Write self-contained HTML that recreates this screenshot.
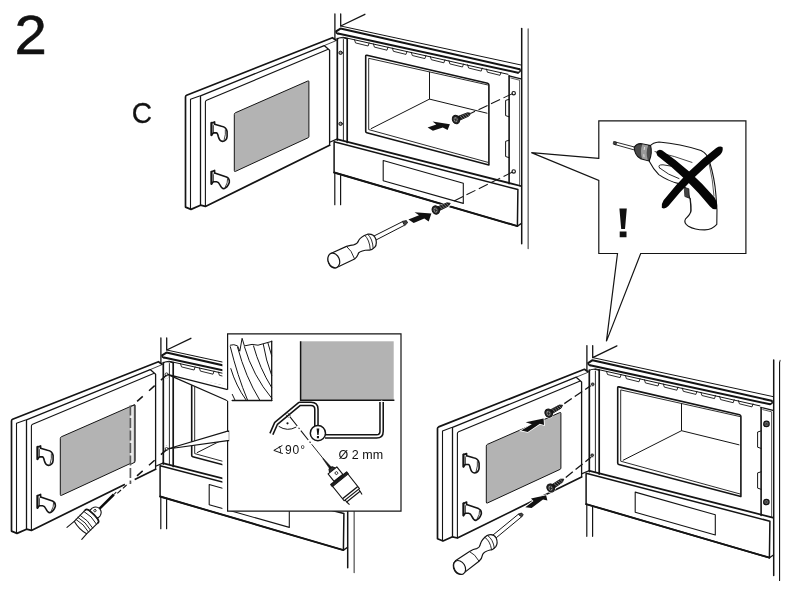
<!DOCTYPE html>
<html><head><meta charset="utf-8"><title>2</title>
<style>
html,body{margin:0;padding:0;background:#fff;}
body{width:792px;height:595px;overflow:hidden;position:relative;font-family:"Liberation Sans",sans-serif;}
svg{position:absolute;left:0;top:0;display:block;}
svg text{filter:grayscale(1);}
</style></head><body>
<svg width="792" height="595" viewBox="0 0 792 595">
<rect width="792" height="595" fill="#fff"/>
<defs><g id="oven" fill="none" stroke="#141414" stroke-linecap="round" stroke-linejoin="round">
<path d="M334.9 14V40 M340.7 14V26 M340.7 26L364.9 14.3" stroke-width="1.3"/>
<path d="M334.8 173.5V204.7 M340.6 175.5V204.7" stroke-width="1.2"/>
<path d="M521.7 28.5V243.8" stroke-width="1.5"/>
<path d="M528.2 29V248.4" stroke-width="1.6" stroke="#7a7a7a"/>
<path d="M336 40.2L332.4 37.7L186.6 95.3Q185.5 95.8 185.5 97V207.1L191 209.4L200.5 205.2L205.4 206.4L329.6 145.3" stroke-width="1.7" fill="#fff"/>
<path d="M190.5 209.2V99.3L199.6 96" stroke-width="1.1"/>
<path d="M200.5 205.2V95.8L324.2 45.6L329.6 50.3V145.3" stroke-width="1.3"/>
<path d="M324.2 45.6L335.5 40.9" stroke-width="0.8"/>
<path d="M205.4 206.4V102Q205.4 100.7 206.6 100.2L327.6 49.6" stroke-width="1.1"/>
<path d="M234.3 114.2Q234.3 113.2 235.3 112.8L307.8 81Q308.9 80.5 308.9 81.7V136.5Q308.9 137.4 308 137.8L235.4 171.4Q234.3 171.9 234.3 170.8Z" fill="#b3b3b3" stroke-width="1"/>
<path d="M211.4 123V135.2L213.4 132.9H216.4Q217.6 133 218.3 136.5Q219.5 141.2 222.6 141.4Q226.8 140.5 227.1 136.5V131.5Q226.4 127.2 221.5 126.2L214.6 124.2V121.9Z" stroke-width="1.6" fill="#fff"/><path d="M211.5 122.8V135.2" stroke-width="1.9"/><path d="M214.6 124.2L213.4 125.6V132.9 M225.4 130Q226 134 224.2 139.6" stroke-width="0.8"/>
<path d="M211.4 171.8V184L213.4 181.7H216.6Q218.6 182 220 185Q221.6 188.6 223.8 188.8Q227.6 187.5 229.3 182.5Q229.8 178.6 226.5 177L214.6 173V170.4Z" stroke-width="1.6" fill="#fff"/><path d="M211.5 171.6V184" stroke-width="1.9"/><path d="M214.6 173L213.4 174.4V181.7 M227.6 179.2Q228 182.6 225.2 187.2" stroke-width="0.8"/>
<path d="M340.7 26L521 65" stroke-width="1"/>
<path d="M336.5 31.2L340.5 28.6L519.6 69.2" stroke-width="2"/>
<path d="M338 33.6L518 72.7" stroke-width="2"/>
<path d="M336.3 31.2Q335.6 33 338 33.8" stroke-width="1.6"/>
<path d="M519.6 69.2Q521.6 71.6 518 72.7" stroke-width="1.5"/>
<path d="M343 37.2L508 74.3" stroke-width="1"/>
<path d="M354.5 39.7L355.5 42.9L368.1 46.0L369.1 43.0" stroke-width="0.9"/>
<path d="M373.4 43.9L374.4 47.1L387.0 50.2L388.0 47.2" stroke-width="0.9"/>
<path d="M392.4 48.1L393.4 51.3L406.0 54.4L407.0 51.4" stroke-width="0.9"/>
<path d="M411.3 52.3L412.3 55.5L424.9 58.6L425.9 55.6" stroke-width="0.9"/>
<path d="M430.3 56.5L431.3 59.7L443.9 62.8L444.9 59.8" stroke-width="0.9"/>
<path d="M448.9 60.7L449.9 63.9L462.5 67.0L463.5 64.0" stroke-width="0.9"/>
<path d="M467.6 64.8L468.6 68.0L481.2 71.1L482.2 68.1" stroke-width="0.9"/>
<path d="M486.4 69.0L487.4 72.2L500.0 75.3L501.0 72.3" stroke-width="0.9"/>
<path d="M337.3 38.5V140" stroke-width="1.7"/>
<path d="M343.4 39.5V140.5" stroke-width="0.9"/>
<path d="M347.2 38.5V142.5" stroke-width="1.7"/>
<path d="M337.3 39Q340 36.5 346.8 38.6" stroke-width="1.2"/>
<circle cx="340.6" cy="52.8" r="1.7" stroke-width="1" fill="#999"/>
<circle cx="340.6" cy="123.8" r="1.7" stroke-width="1" fill="#999"/>
<path d="M365.7 56.2Q365.7 55 366.9 55.3L487.6 83.2Q488.9 83.6 488.9 85V165L366.8 132.8Q365.7 132.5 365.7 131.3Z" stroke-width="1.6"/>
<path d="M487.6 84.9L368.7 58.3V129.6L487.8 162.3" stroke-width="0.9"/>
<path d="M429.5 72.3V99.1L487 113.2 M429.5 99.1L371.2 128.6" stroke-width="1"/>
<path d="M509.1 75.9V183.8" stroke-width="1.6"/>
<path d="M509.1 75.9L521 78.8" stroke-width="1.2"/>
<path d="M510.8 78L519.6 80.2V186" stroke-width="0.7"/>
<circle cx="513.7" cy="93.2" r="1.7" stroke-width="1.15"/>
<circle cx="513.7" cy="171.4" r="1.7" stroke-width="1.15"/>
<path d="M509.1 99.3L505.6 100.4V115.6L509.1 116.8 M509.1 140.2L505.6 141.3V156.5L509.1 157.7" stroke-width="1"/>
<path d="M334.1 141.7L517.9 189.6L517.4 226.1L334.1 172.5Z" stroke-width="1.5" fill="#fff"/>
<path d="M334.1 172.5L517.4 226.1" stroke-width="1.9"/>
<path d="M517.4 226.1L521.5 223.4" stroke-width="1.3"/>
<path d="M337.6 139.3L520.8 186" stroke-width="1.8"/>
<path d="M329.6 142.3L337.4 138.9" stroke-width="1.2"/>
<path d="M383.2 160.5L463.3 183.2V203.4L383.2 180.7Z" stroke-width="1.1"/>
</g><linearGradient id="stripg" x1="0" x2="1" y1="0" y2="0"><stop offset="0" stop-color="#fafafa"/><stop offset="0.55" stop-color="#e4e4e4"/><stop offset="1" stop-color="#a8a8a8"/></linearGradient></defs>
<text transform="translate(14.4 53.8) scale(1.06 1)" x="0" y="0" font-family="Liberation Sans, sans-serif" font-size="54.9" fill="#111" stroke="#111" stroke-width="0.5">2</text>
<text transform="translate(131.8 123) scale(0.95 1.01)" x="0" y="0" font-family="Liberation Sans, sans-serif" font-size="29.6" fill="#111" stroke="#111" stroke-width="0.3">C</text>
<use href="#oven"/>
<g fill="none" stroke="#141414" stroke-linecap="butt">
<path d="M512.5 93.6L470.5 113.5" stroke-width="1.05" stroke-dasharray="10 3.8"/>
<path d="M512.5 172L451 202.5" stroke-width="1.05" stroke-dasharray="10 3.8"/>
</g>
<g transform="translate(456.0 119.5) rotate(-22.7)"><path d="M0 0H13.5" stroke="#fff" stroke-width="5.6" stroke-linecap="round" fill="none"/><ellipse cx="0" cy="0" rx="4.7" ry="5.3" fill="#fff" stroke="none"/><path d="M2 -2.1L13.2 -1.8L16.0 0L13.2 1.8L2 2.1Z" fill="#1a1a1a" stroke="#1a1a1a" stroke-width="0.8"/><path d="M5.2 -1.8L6.2 1.8M7.6 -1.8L8.6 1.8M10 -1.7L11 1.7M12.4 -1.5L13.2 1.5" stroke="#b5b5b5" stroke-width="0.55"/><ellipse cx="0" cy="0" rx="3.6" ry="4.3" fill="#222" stroke="#111" stroke-width="1"/><ellipse cx="-0.3" cy="0" rx="2" ry="2.6" fill="#8c8c8c" stroke="none"/><path d="M-1.7 -1.4L1.1 1.6M-1.4 1.7L1 -1.6" stroke="#222" stroke-width="0.8"/></g>
<g transform="translate(435.8 210.0) rotate(-25.0)"><path d="M0 0H13.5" stroke="#fff" stroke-width="5.6" stroke-linecap="round" fill="none"/><ellipse cx="0" cy="0" rx="4.7" ry="5.3" fill="#fff" stroke="none"/><path d="M2 -2.1L13.1 -1.8L15.9 0L13.1 1.8L2 2.1Z" fill="#1a1a1a" stroke="#1a1a1a" stroke-width="0.8"/><path d="M5.2 -1.8L6.2 1.8M7.6 -1.8L8.6 1.8M10 -1.7L11 1.7M12.4 -1.5L13.2 1.5" stroke="#b5b5b5" stroke-width="0.55"/><ellipse cx="0" cy="0" rx="3.6" ry="4.3" fill="#222" stroke="#111" stroke-width="1"/><ellipse cx="-0.3" cy="0" rx="2" ry="2.6" fill="#8c8c8c" stroke="none"/><path d="M-1.7 -1.4L1.1 1.6M-1.4 1.7L1 -1.6" stroke="#222" stroke-width="0.8"/></g>
<polygon points="427.6,127.6 436.3,124.5 432.6,121.6 449.9,124.2 447.6,130.0 442.8,127.4 432.9,130.8" fill="#111" stroke="none"/>
<polygon points="408.4,219.4 419.0,215.3 414.6,212.3 431.4,213.6 428.7,221.5 424.3,218.5 413.7,222.9" fill="#111" stroke="none"/>
<g transform="translate(0 0)" fill="#fff" stroke="#141414" stroke-width="1.2" stroke-linejoin="round"><path d="M402.6 221.6L373.6 236.2 M404.4 225.3L376 240" stroke-width="1"/><path d="M402.3 221.4L406.4 220.6L407.6 222.8L404.7 225.6Z" fill="#444" stroke-width="0.9"/><path d="M331.3 253.2L346.5 246.4Q351 244.8 353.6 244.8Q357.5 244 358.6 240.6Q360.5 236.6 367.6 234.2Q373.8 233.6 375.8 239Q377.2 244.4 374.8 247.2Q372 250.4 368.8 250Q361 250.4 358.5 253Q357.5 256.8 354.6 259L336.2 267.8Q331 268.6 328.6 263Q326.6 256.5 331.3 253.2Z"/><ellipse cx="333.8" cy="260.4" rx="5.6" ry="7.6" transform="rotate(-22 333.8 260.4)"/><path d="M346.5 246.4Q351.5 250 354.6 259" fill="none" stroke-width="0.9"/><path d="M364.6 235.2Q369.5 239.5 370.3 249.8" fill="none" stroke-width="0.9"/><path d="M367.6 234.2Q372.6 238.5 373.2 248.8" fill="none" stroke-width="0.9"/></g>
<use href="#oven" transform="translate(252 331.6)"/>
<g fill="none" stroke="#141414" stroke-linecap="butt">
<path d="M592.6 384.4L563.5 404.2" stroke-width="1.3" stroke-dasharray="9 3.6"/>
<path d="M592.4 456L564.5 478.5" stroke-width="1.3" stroke-dasharray="9 3.6"/>
</g>
<g transform="translate(548.7 413.2) rotate(-29.9)"><path d="M0 0H13.5" stroke="#fff" stroke-width="5.6" stroke-linecap="round" fill="none"/><ellipse cx="0" cy="0" rx="4.7" ry="5.3" fill="#fff" stroke="none"/><path d="M2 -2.1L13.2 -1.8L16.0 0L13.2 1.8L2 2.1Z" fill="#1a1a1a" stroke="#1a1a1a" stroke-width="0.8"/><path d="M5.2 -1.8L6.2 1.8M7.6 -1.8L8.6 1.8M10 -1.7L11 1.7M12.4 -1.5L13.2 1.5" stroke="#b5b5b5" stroke-width="0.55"/><ellipse cx="0" cy="0" rx="3.6" ry="4.3" fill="#222" stroke="#111" stroke-width="1"/><ellipse cx="-0.3" cy="0" rx="2" ry="2.6" fill="#8c8c8c" stroke="none"/><path d="M-1.7 -1.4L1.1 1.6M-1.4 1.7L1 -1.6" stroke="#222" stroke-width="0.8"/></g>
<g transform="translate(550.7 488.0) rotate(-34.2)"><path d="M0 0H13.5" stroke="#fff" stroke-width="5.6" stroke-linecap="round" fill="none"/><ellipse cx="0" cy="0" rx="4.7" ry="5.3" fill="#fff" stroke="none"/><path d="M2 -2.1L13.0 -1.8L15.8 0L13.0 1.8L2 2.1Z" fill="#1a1a1a" stroke="#1a1a1a" stroke-width="0.8"/><path d="M5.2 -1.8L6.2 1.8M7.6 -1.8L8.6 1.8M10 -1.7L11 1.7M12.4 -1.5L13.2 1.5" stroke="#b5b5b5" stroke-width="0.55"/><ellipse cx="0" cy="0" rx="3.6" ry="4.3" fill="#222" stroke="#111" stroke-width="1"/><ellipse cx="-0.3" cy="0" rx="2" ry="2.6" fill="#8c8c8c" stroke="none"/><path d="M-1.7 -1.4L1.1 1.6M-1.4 1.7L1 -1.6" stroke="#222" stroke-width="0.8"/></g>
<path d="M779.6 361.5V581" stroke="#141414" stroke-width="1.2" fill="none"/>
<path d="M780.6 361.5V581.2" stroke="#fff" stroke-width="0.9" fill="none"/>
<circle cx="592.6" cy="384.4" r="2.3" fill="#fff" stroke="none"/>
<circle cx="592.6" cy="455.4" r="2.3" fill="#fff" stroke="none"/>
<circle cx="592.7" cy="384.3" r="1.3" fill="#666" stroke="#141414" stroke-width="0.9"/>
<circle cx="592.2" cy="455.3" r="1.3" fill="#666" stroke="#141414" stroke-width="0.9"/>
<circle cx="766.5" cy="423.9" r="2.7" fill="#6a6a6a" stroke="#141414" stroke-width="1.2"/>
<path d="M765.3 422.7l2.4 2.4m0 -2.4l-2.4 2.4" stroke="#222" stroke-width="0.7" fill="none"/>
<circle cx="766.4" cy="502.0" r="2.7" fill="#6a6a6a" stroke="#141414" stroke-width="1.2"/>
<path d="M765.2 500.8l2.4 2.4m0 -2.4l-2.4 2.4" stroke="#222" stroke-width="0.7" fill="none"/>
<polygon points="521.2,430.6 531.8,424.3 525.7,422.3 543.6,418.6 544.0,425.0 539.8,423.8 527.7,431.9" fill="#111" stroke="#fff" stroke-width="1.6" stroke-linejoin="miter"/><polygon points="521.2,430.6 531.8,424.3 525.7,422.3 543.6,418.6 544.0,425.0 539.8,423.8 527.7,431.9" fill="#111" stroke="none"/>
<polygon points="525.3,507.2 533.5,500.9 531.0,498.4 546.1,495.2 547.4,500.4 543.0,499.6 531.6,507.9" fill="#111" stroke="#fff" stroke-width="1.6" stroke-linejoin="miter"/><polygon points="525.3,507.2 533.5,500.9 531.0,498.4 546.1,495.2 547.4,500.4 543.0,499.6 531.6,507.9" fill="#111" stroke="none"/>
<g fill="#fff" stroke="#141414" stroke-width="1.2" stroke-linejoin="round"><path d="M518.4 514.2L492.8 535.2 M521.6 516.8L496.2 537.8" stroke-width="1"/><path d="M518.2 514.2L521.6 513L523.2 514.8L521.6 517Z" fill="#444" stroke-width="0.9"/><path d="M455.4 560.8L469.5 551.6Q473.5 548.8 476.6 548.6Q479.8 547.6 480.4 544Q481.6 539.6 487 535.6Q493.2 533 496.2 538Q498.2 543 495.8 546.6Q493 550 490 550Q484 551.5 482.6 554.6Q482 558.6 479 561.2L463 573.6Q458 575.6 454.6 570.6Q451.6 564.6 455.4 560.8Z"/><ellipse cx="459.6" cy="567.4" rx="5.4" ry="7.4" transform="rotate(-32 459.6 567.4)"/><path d="M469.5 551.6Q475 554 479 561.2" fill="none" stroke-width="0.9"/><path d="M484.6 537.2Q490 540.6 491.6 549.8" fill="none" stroke-width="0.9"/><path d="M487.4 535.4Q493 539 494.4 548.4" fill="none" stroke-width="0.9"/></g>
<use href="#oven" transform="translate(-174 324)"/>
<circle cx="166.6" cy="376.8" r="2.3" fill="#fff" stroke="none"/>
<circle cx="166.6" cy="447.8" r="2.3" fill="#fff" stroke="none"/>
<circle cx="166.6" cy="374.4" r="1.5" fill="#fff" stroke="#141414" stroke-width="0.8"/>
<circle cx="166.6" cy="449.0" r="1.5" fill="#fff" stroke="#141414" stroke-width="0.8"/>
<path d="M124.8 484.2L134.6 479.4" stroke="#fff" stroke-width="3" fill="none"/>
<path d="M130.4 406.7L134.9 404.8V462.2L130.4 464.4Z" fill="url(#stripg)" stroke="none"/>
<path d="M130.4 406.7L134.9 404.8V462.2L130.4 464.4" fill="none" stroke="#141414" stroke-width="1"/>
<g fill="none" stroke="#141414">
<path d="M130.4 405.5V484" stroke-width="1.7" stroke-dasharray="10 2.5" stroke="#5a5a5a"/>
<path d="M166.6 375L131.3 406.6" stroke-width="1.5" stroke-dasharray="7.6 8.4"/>
<path d="M166.6 449.6L130.6 481.6" stroke-width="1.5" stroke-dasharray="7.6 8.4"/>
<path d="M126.6 485L116.6 494" stroke-width="1.1" stroke-dasharray="5 2.5"/>
</g>
<g fill="#fff" stroke="#141414" stroke-width="1.1" stroke-linejoin="round" stroke-linecap="round"><g transform="translate(91.8 516.3) rotate(-44.7)"><path d="M10 0H31" stroke-width="2.5" stroke="#0a0a0a" stroke-linecap="butt"/><path d="M31 0H34" stroke-width="1"/><path d="M-16 -8.8L-25.4 -9.6 M-16 8.8L-23.4 9.4" fill="none"/><path d="M-16 -8.8L0 -9Q2.6 -9 2.6 0Q2.6 9 0 9L-16 8.8Q-18.4 0 -16 -8.8Z"/><path d="M-13.4 -8.8Q-11 0 -13.4 8.8 M-10.6 -8.9Q-8.2 0 -10.6 8.9 M-7.6 -8.9Q-5.2 0 -7.6 8.9" fill="none" stroke-width="0.9"/><path d="M-2.2 -9Q0.4 0 -2.2 9" fill="none" stroke-width="0.9"/><path d="M0 -9Q2.8 -9 2.8 0Q2.8 9 0 9" fill="none" stroke-width="1.8"/><path d="M2.6 -5.6L6 -5.6Q10.8 -4.4 11 0Q10.8 4.4 6 5.6L2.6 5.6Q3.4 0 2.6 -5.6Z"/><circle cx="6.2" cy="-1.8" r="1.2" stroke-width="0.8"/></g></g>
<g fill="#fff" stroke="#141414" stroke-width="1.2" stroke-linejoin="miter">
<path d="M222.4 333.2H228V511.8H222.4Z" fill="#fff" stroke="none"/>
<path d="M227.6 386.4L178 373.8L178 379L227.6 400.9Z" fill="#fff" stroke="none"/>
<path d="M227.6 389.6L167.4 374.4L227.6 400.7 M227.6 431.1L167.4 449L227.6 440.7" fill="#fff"/>
<path d="M227.6 389.8V333.8H401V511.2H227.6V440.7L228.6 440.7V431.1L227.6 431.1V400.9" fill="#fff"/>
</g>
<path d="M227.6 390.6V400.1 M227.6 431.9V439.9" stroke="#fff" stroke-width="2.4" fill="none"/>
<rect x="300.6" y="341.3" width="93.1" height="58.8" fill="#b3b3b3"/>
<path d="M300.6 341.3V400.2H394.4" fill="none" stroke="#141414" stroke-width="1.5"/>
<g fill="none" stroke="#141414" stroke-width="1" stroke-linejoin="round" stroke-linecap="round">
<path d="M232.3 400.5H271.7" stroke-width="1.6"/>
<path d="M271.7 400.5V341.2" stroke-width="1.3"/>
<path d="M230.3 345.2L233.8 344.7L237.6 345.9L239.8 351.2L242.1 338.3L244.4 345.9L252 344.4L258 345.2L271.7 341.4"/>
<path d="M230.3 346.7Q237.5 376 247.4 399.7"/>
<path d="M230.8 368.6Q236 386 245.9 399.7"/>
<path d="M232.3 394.4L234.8 399.7"/>
<path d="M237.6 347.4Q245.5 377 259.5 399.7"/>
<path d="M244.4 346.7Q253 376 271.7 398.2"/>
<path d="M253.5 345.9Q259.5 368 271.7 387.6"/>
<path d="M263.3 344.4Q265.8 360 271.7 375.5"/>
<path d="M267.9 342.9L271.7 355.8"/>
</g>
<path d="M271.4 434L276.1 423.3L299.6 403.9H311Q316.4 403.9 316.4 409.3V429" fill="none" stroke="#141414" stroke-width="4.8" stroke-linejoin="round"/>
<path d="M271.4 434L276.1 423.3L299.6 403.9H311Q316.4 403.9 316.4 409.3V429" fill="none" stroke="#fff" stroke-width="1.7" stroke-linejoin="round"/>
<path d="M325 436.4H376.6Q381.6 436.4 381.6 431.2V402" fill="none" stroke="#141414" stroke-width="4.8" stroke-linejoin="round"/>
<path d="M325 436.4H376.6Q381.6 436.4 381.6 431.2V402" fill="none" stroke="#fff" stroke-width="1.7" stroke-linejoin="round"/>
<path d="M271.4 434L270.6 435.8 M381.6 402V400.6" stroke="#fff" stroke-width="1.5" fill="none"/>
<path d="M285.6 414.4L288.4 417.6 M287.6 412.8L290.4 416" stroke="#141414" stroke-width="0.7" fill="none"/>
<circle cx="317.9" cy="433.2" r="7.6" fill="#fff" stroke="#141414" stroke-width="1.5"/>
<path d="M316.6 428.6H319.3L318.6 435H317.3Z M316.9 436H319V438.2H316.9Z" fill="#111"/>
<path d="M278.7 426.3Q287.4 432 296.3 427" fill="none" stroke="#141414" stroke-width="1"/>
<circle cx="287.5" cy="423.3" r="1.1" fill="#111"/>
<path d="M289.8 416.6L311.6 444.2" fill="none" stroke="#141414" stroke-width="1.1" stroke-dasharray="12 2.2 1.4 2.2"/><path d="M311.6 444.2L324 459.6" fill="none" stroke="#111" stroke-width="0.9"/>
<g transform="translate(331.2 468.8) rotate(51.4)" fill="#fff" stroke="#141414" stroke-width="1.1" stroke-linejoin="round">
<path d="M-13 -0.25L0 -1.2V1.2L-13 0.25Z" fill="#111" stroke-width="0.6"/>
<path d="M-1 -2L2 -3.6V3.6L-1 2Z" fill="#333"/>
<path d="M2 -5.6H11.6V5.6H2Z"/>
<circle cx="6.6" cy="-1.4" r="1.4" stroke-width="0.8"/>
<path d="M12 -10.2H14.6V10.2H12Z" fill="#222"/>
<path d="M14.6 -9.8H33V9.8H14.6Z"/>
<path d="M30.4 -9.8V9.8" stroke-width="1.4"/>
<path d="M33 -8.6H35.6V8.6H33" fill="none"/>
<path d="M35.6 -8.6L39.4 -8 M35.6 8.6L39.4 8" fill="none"/>
</g>
<text x="285" y="453.6" font-family="Liberation Sans, sans-serif" font-size="12" letter-spacing="0.9" fill="#111">90°</text>
<path d="M282.4 445.4L273.8 450.4L282.8 453.6" fill="none" stroke="#141414" stroke-width="1"/>
<path d="M279.2 446.2Q281.2 449.6 280.4 453.2" fill="none" stroke="#141414" stroke-width="0.9"/>
<text x="338.6" y="458.5" font-family="Liberation Sans, sans-serif" font-size="12.5" fill="#111">Ø 2 mm</text>
<g fill="#fff" stroke="#141414" stroke-width="1.2" stroke-linejoin="miter">
<path d="M598.8 158.4L531.4 152.6L598.8 180.5V253.5H617.5L606.4 341.4L640.7 253.5H745.9V120.8H598.8Z"/>
</g>
<path d="M619.4 208.6H626.8L625 229H621.2Z M619.7 231.4H626.5V237.3H619.7Z" fill="#111"/>
<g fill="#fff" stroke="#141414" stroke-width="1.1" stroke-linejoin="round" stroke-linecap="round">
<path d="M615 141.9L634.4 147 M614.4 144.4L633.8 149.8" stroke-width="0.9"/>
<path d="M614 141.6L616.6 142.3L616 144.9L613.6 144.2Z" fill="#444" stroke-width="0.8"/>
<path d="M649.6 146.4Q653 142.4 659 142Q680 143.6 701 150.6Q707.6 153.6 709.6 162Q714.6 178 715.9 194.7Q717.6 210 716.8 224.3Q712 229.6 704.8 229.9Q695 230 688.4 226.2Q683.2 223 685.6 218.8Q690.8 214 691 210.4Q690.6 203 690 198.4L685 187.4Q682 184.6 678.9 183.6Q668 181 658.8 174.6Q653 168.6 649.4 161.4Z"/>
<path d="M634.2 147.2Q636.6 143.6 640.6 143.6L650.6 145.6Q652.6 153 649.2 161L640.4 158.6Q634.6 155.4 634.2 147.2Z" fill="#4a4a4a"/>
<path d="M642.4 144.2Q639.8 150.6 642 158.6L647.8 160.2Q645.4 152 648.2 145.4Z" fill="#9a9a9a" stroke="none"/>
<path d="M644.6 147.4L644.2 149.6 M643.8 154.6L644 156.8" stroke="#eee" stroke-width="0.8"/>
<path d="M659.6 168Q657 164.6 663 164.8Q672 165.2 680 169.6" fill="none" stroke-width="0.9"/>
<path d="M659.6 168Q668 175 679 178.6" fill="none" stroke-width="0.9"/>
<path d="M655 151.6Q675 156 692 162.4" fill="none" stroke-width="0.8"/>
<path d="M684.6 187.4L688.8 188.8L689.4 198.2L685.2 196.6Z" fill="#444" stroke-width="0.8"/>
<path d="M690.4 198.6Q691.6 206 690.8 212" fill="none" stroke-width="0.8"/>
<path d="M709 163Q713 180 714 196" fill="none" stroke-width="0.7"/>
</g>
<path d="M656.2 152.6Q657.6 148.8 662 150.2Q690.6 169.6 714.6 197.4Q718.2 203.6 716.8 209Q713 210.2 710 206.6Q687.6 178.6 657.4 155.8Z" fill="#050505"/>
<path d="M722.6 147.2Q723.4 151.2 720.2 154.8Q692.4 176.4 668.4 206Q665 209.6 661.8 207.8Q661.2 203.8 663.6 200.2Q687.6 169.6 716.2 148Q720 145.6 722.6 147.2Z" fill="#050505"/>
</svg></body></html>
